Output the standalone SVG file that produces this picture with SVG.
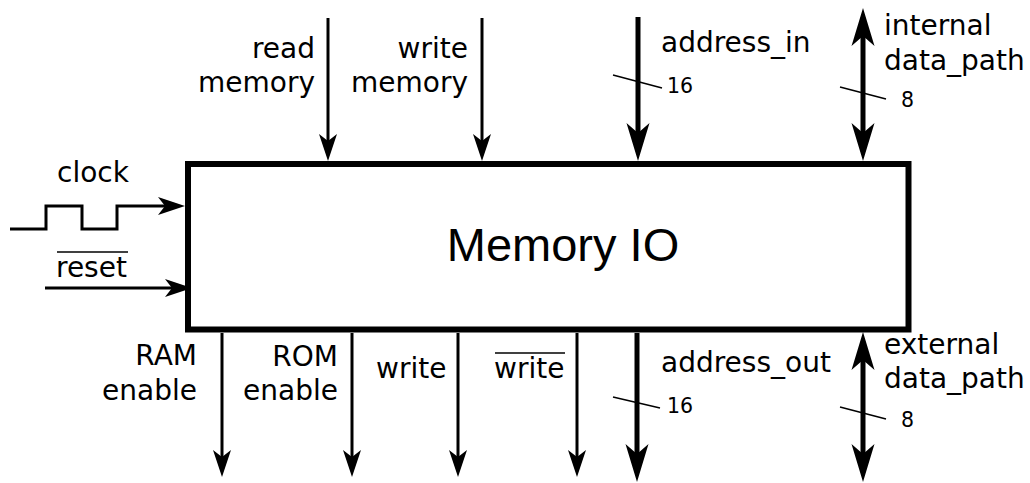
<svg xmlns="http://www.w3.org/2000/svg" width="1030" height="483" viewBox="0 0 1030 483">
<style>
.lbl{font-family:"DejaVu Sans",sans-serif;font-size:28px;fill:#000}
.num{font-family:"DejaVu Sans",sans-serif;font-size:20.5px;fill:#000}
.end{text-anchor:end}
.w{fill:none;stroke:#000;stroke-width:3}
.bus{fill:none;stroke:#000;stroke-width:5}
.thin{fill:none;stroke:#000;stroke-width:1.5}
.tw{marker-end:url(#ah)}
.tb{marker-end:url(#ahb)}
.bi{marker-start:url(#ahb);marker-end:url(#ahb)}
</style>
<defs>
<marker id="ah" markerUnits="userSpaceOnUse" markerWidth="40" markerHeight="30" viewBox="-10 -15 40 30" refX="0" refY="0" orient="auto-start-reverse" overflow="visible">
<path d="M20,0 L-7,-9 L0,0 L-7,9 Z" fill="#000"/>
</marker>
<marker id="ahb" markerUnits="userSpaceOnUse" markerWidth="50" markerHeight="30" viewBox="-12 -15 50 30" refX="0" refY="0" orient="auto-start-reverse" overflow="visible">
<path d="M28,0 L-10,-11.5 L0,0 L-10,11.5 Z" fill="#000"/>
</marker>
</defs>

<g id="connectors">
<path class="w tw" d="M10,229 H46 V206 H82 V229 H117 V206 H165"/>
<path class="w tw" d="M45,288 H172"/>
<path class="w tw" d="M328,18 V141"/>
<path class="w tw" d="M482,18 V141"/>
<path class="bus tb" d="M638,17 V133"/>
<path class="bus bi" d="M863,36 V133"/>
<path class="w tw" d="M222,333 V457"/>
<path class="w tw" d="M352,333 V457"/>
<path class="w tw" d="M458,333 V457"/>
<path class="w tw" d="M577,333 V457"/>
<path class="bus tb" d="M637,333 V454"/>
<path class="bus bi" d="M863,360 V454"/>
<line class="thin" x1="613" y1="75" x2="662" y2="88"/>
<line class="thin" x1="840" y1="87" x2="886" y2="99"/>
<line class="thin" x1="613" y1="397" x2="660" y2="408"/>
<line class="thin" x1="840" y1="407" x2="886" y2="419"/>
</g>

<g id="memory-io">
<rect x="188" y="164" width="720.5" height="165.5" fill="#fff" stroke="#000" stroke-width="6"/>
<text x="563" y="261" text-anchor="middle" style="font-family:'Liberation Sans',Arial,sans-serif;font-size:47px">Memory IO</text>
</g>

<g id="clock">
<text class="lbl" x="93" y="182" text-anchor="middle">clock</text>
</g>
<g id="reset">
<text class="lbl" x="56" y="277">reset</text>
<line x1="57" y1="252" x2="128" y2="252" stroke="#000" stroke-width="1.5"/>
</g>
<g id="read-memory">
<text class="lbl end" x="315" y="58">read</text>
<text class="lbl end" x="315" y="92">memory</text>
</g>
<g id="write-memory">
<text class="lbl end" x="468" y="58">write</text>
<text class="lbl end" x="468" y="92">memory</text>
</g>
<g id="address-in">
<text class="lbl" x="661" y="52">address_in</text>
<text class="num" x="667" y="93">16</text>
</g>
<g id="internal-data-path">
<text class="lbl" x="884" y="35">internal</text>
<text class="lbl" x="884" y="70">data_path</text>
<text class="num" x="901" y="107">8</text>
</g>
<g id="ram-enable">
<text class="lbl end" x="197" y="365">RAM</text>
<text class="lbl end" x="197" y="400">enable</text>
</g>
<g id="rom-enable">
<text class="lbl end" x="338" y="366">ROM</text>
<text class="lbl end" x="338" y="400">enable</text>
</g>
<g id="write">
<text class="lbl" x="376" y="378">write</text>
</g>
<g id="write-bar">
<text class="lbl" x="494" y="378">write</text>
<line x1="495" y1="353" x2="565" y2="353" stroke="#000" stroke-width="1.5"/>
</g>
<g id="address-out">
<text class="lbl" x="661" y="372">address_out</text>
<text class="num" x="667" y="413">16</text>
</g>
<g id="external-data-path">
<text class="lbl" x="884" y="354">external</text>
<text class="lbl" x="884" y="388">data_path</text>
<text class="num" x="901" y="427">8</text>
</g>
</svg>
